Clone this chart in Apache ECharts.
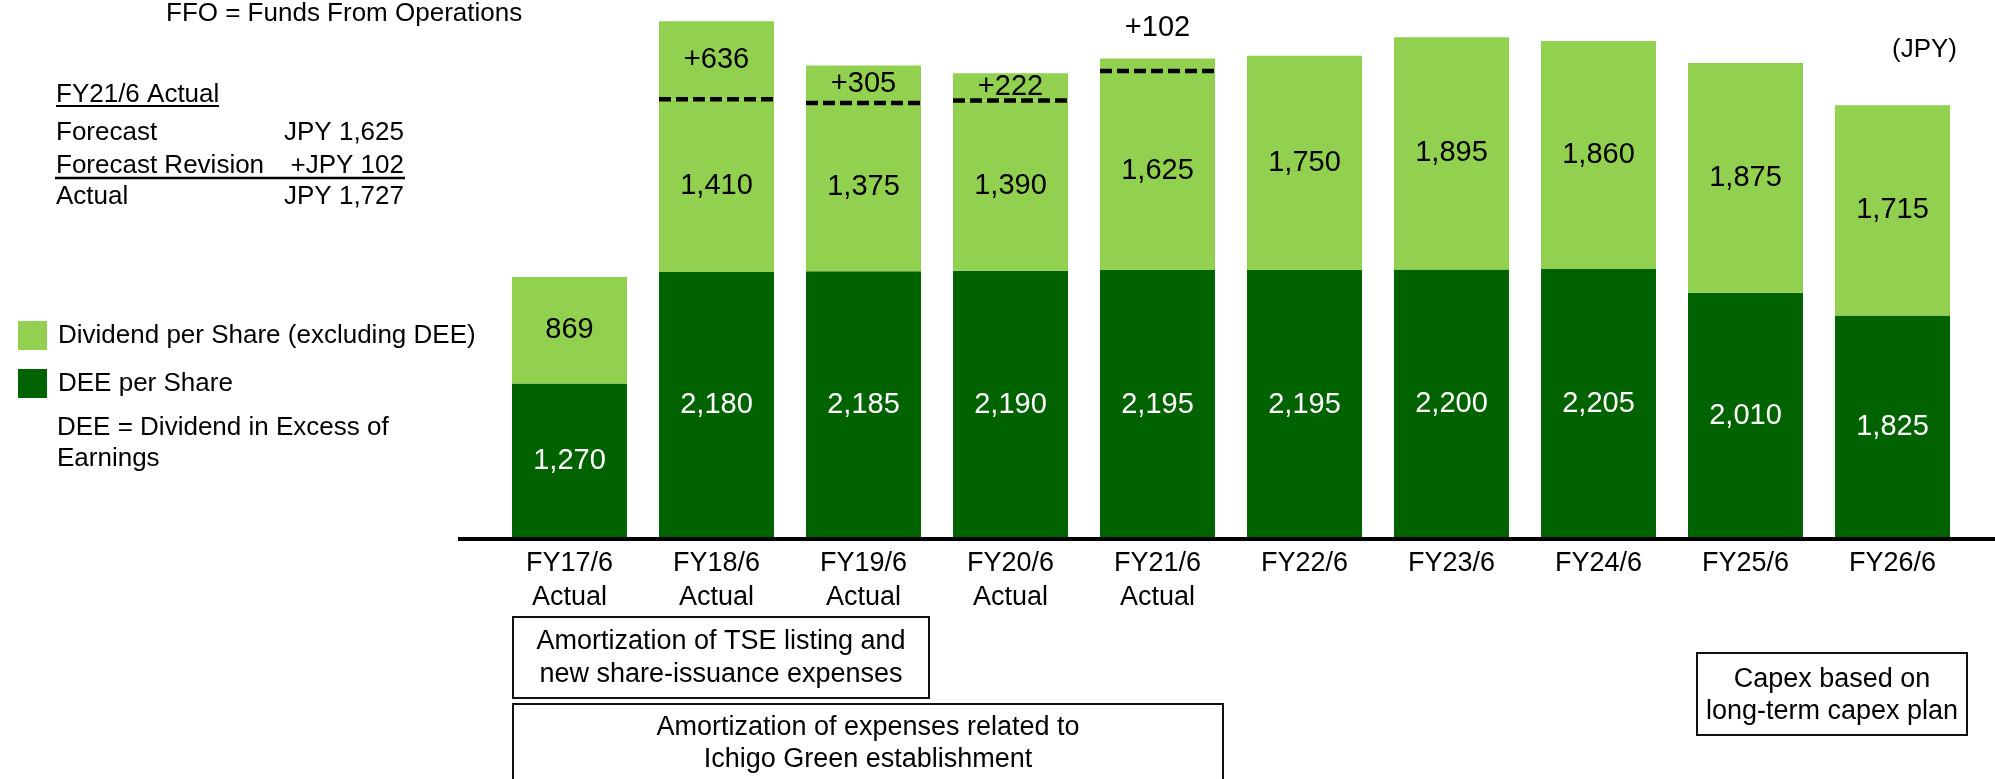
<!DOCTYPE html>
<html>
<head>
<meta charset="utf-8">
<script src="https://cdn.jsdelivr.net/npm/echarts@6/dist/echarts.min.js"></script>
<style>
html,body{margin:0;padding:0;background:#fff;}
#chart{width:1995px;height:779px;}
</style>
</head>
<body>
<div id="chart"></div>
<script>
// ---- data ----
const categories = ['FY17/6\nActual','FY18/6\nActual','FY19/6\nActual','FY20/6\nActual','FY21/6\nActual','FY22/6','FY23/6','FY24/6','FY25/6','FY26/6'];
const deePerShare = [1270, 2180, 2185, 2190, 2195, 2195, 2200, 2205, 2010, 1825];
const dividendExDee = [869, 1410, 1375, 1390, 1625, 1750, 1895, 1860, 1875, 1715];
const forecastRevision = [null, 636, 305, 222, 102, null, null, null, null, null];
const seriesNames = ['Dividend per Share (excluding DEE)', 'DEE per Share'];

// ---- style ----
const FONT = '"Liberation Sans", Arial, sans-serif';
const LIGHT = '#92D050';
const DARK = '#006300';
const BAR_W = 115;

const chart = echarts.init(document.getElementById('chart'));
const fmt = v => Number(v).toLocaleString('en-US');

const revisionData = forecastRevision.map((v, i) => {
  if (v == null) return null;
  const item = { value: v };
  if (i === 4) item.label = { position: 'top', distance: 16 };
  return item;
});
const dashData = [];
forecastRevision.forEach((v, i) => { if (v != null) dashData.push([i, deePerShare[i] + dividendExDee[i]]); });

function txt(text, x, y, size, align) {
  return { type: 'text', x: x, y: y, z: 100,
    style: { text: text, font: size + 'px ' + FONT, fill: '#000',
      align: align || 'left', verticalAlign: 'middle',
      textAlign: align || 'left', textVerticalAlign: 'middle' } };
}
function hline(x1, x2, y, w) {
  return { type: 'line', z: 100, shape: { x1: x1, y1: y, x2: x2, y2: y }, style: { stroke: '#000', lineWidth: w } };
}
function box(x, y, w, h) {
  return { type: 'rect', z: 100, shape: { x: x, y: y, width: w, height: h }, style: { fill: 'none', stroke: '#111', lineWidth: 2 } };
}

const option = {
  animation: false,
  backgroundColor: '#fff',
  grid: { left: 496, right: 29, top: 0, bottom: 240, containLabel: false },
  legend: {
    data: seriesNames,
    orient: 'vertical', left: 13, top: 316, itemWidth: 29, itemHeight: 29, itemGap: 19,
    icon: 'rect', selectedMode: false,
    textStyle: { fontSize: 26, fontFamily: FONT, color: '#000', padding: [0, 0, 0, 6] }
  },
  xAxis: {
    type: 'category', data: categories,
    axisLine: { show: false }, axisTick: { show: false }, splitLine: { show: false },
    axisLabel: { fontSize: 27, fontFamily: FONT, color: '#000', lineHeight: 34, margin: 8, interval: 0 }
  },
  yAxis: { type: 'value', min: 0, max: 4400, show: false, splitLine: { show: false } },
  series: [
    {
      name: 'DEE per Share', type: 'bar', stack: 'total', barWidth: BAR_W, data: deePerShare,
      itemStyle: { color: DARK },
      label: { show: true, position: 'inside', color: '#fff', fontSize: 29, fontFamily: FONT, formatter: p => fmt(p.value) }
    },
    {
      name: 'Dividend per Share (excluding DEE)', type: 'bar', stack: 'total', barWidth: BAR_W, data: dividendExDee,
      itemStyle: { color: LIGHT },
      label: { show: true, position: 'inside', color: '#000', fontSize: 29, fontFamily: FONT, formatter: p => fmt(p.value) }
    },
    {
      name: 'Forecast Revision', type: 'bar', stack: 'total', barWidth: BAR_W, data: revisionData,
      itemStyle: { color: LIGHT },
      label: { show: true, position: 'inside', color: '#000', fontSize: 29, fontFamily: FONT, formatter: p => '+' + fmt(p.value) }
    },
    {
      name: 'dash', type: 'custom', data: dashData, z: 10, silent: true,
      encode: { x: 0, y: 1 },
      renderItem: function (params, api) {
        const c = api.coord([api.value(0), api.value(1)]);
        return { type: 'line', shape: { x1: c[0] - BAR_W / 2, y1: c[1], x2: c[0] + BAR_W / 2, y2: c[1] },
          style: { stroke: '#000', lineWidth: 4.5, lineDash: [12, 5] } };
      }
    }
  ]
};
chart.setOption(option);

const baseY = chart.convertToPixel({ yAxisIndex: 0 }, 0);
chart.setOption({
  graphic: [
    hline(458, 1995, baseY, 4),
    txt('FFO = Funds From Operations', 166, 14, 26),
    txt('FY21/6 Actual', 56, 95, 26),
    hline(56, 219, 106, 2),
    txt('Forecast', 56, 133, 26),
    txt('JPY 1,625', 404, 133, 26, 'right'),
    txt('Forecast Revision', 56, 166, 26),
    txt('+JPY 102', 404, 166, 26, 'right'),
    hline(55, 405, 178, 2.5),
    txt('Actual', 56, 197, 26),
    txt('JPY 1,727', 404, 197, 26, 'right'),
    txt('DEE = Dividend in Excess of', 57, 428, 26),
    txt('Earnings', 57, 459, 26),
    txt('(JPY)', 1957, 50, 26, 'right'),
    box(513, 617, 416, 81),
    txt('Amortization of TSE listing and', 721, 642, 27, 'center'),
    txt('new share-issuance expenses', 721, 675, 27, 'center'),
    box(513, 704, 710, 90),
    txt('Amortization of expenses related to', 868, 728, 27, 'center'),
    txt('Ichigo Green establishment', 868, 760, 27, 'center'),
    box(1697, 653, 270, 82),
    txt('Capex based on', 1832, 680, 27, 'center'),
    txt('long-term capex plan', 1832, 712, 27, 'center')
  ]
});
</script>
</body>
</html>
